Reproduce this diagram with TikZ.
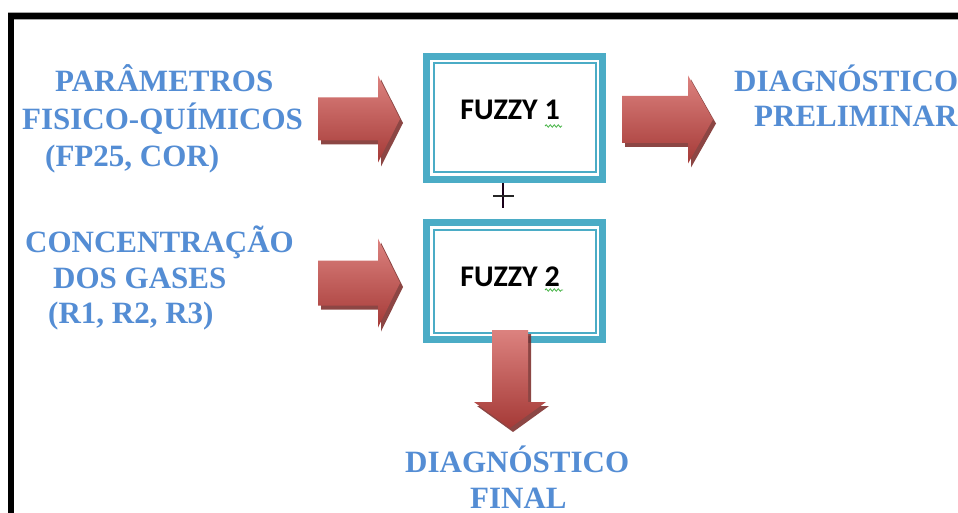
\documentclass[tikz,border=0pt]{standalone}
\usepackage{fontspec}
\setmainfont{Liberation Serif}
\newfontfamily\fzfont{Carlito}
\usetikzlibrary{decorations.pathmorphing}

\definecolor{lblblue}{RGB}{84,141,212}
\definecolor{boxteal}{RGB}{75,172,198}
\definecolor{arrred}{RGB}{192,80,77}
\definecolor{arrpink}{RGB}{220,130,127}
\definecolor{arrdark}{RGB}{165,58,55}
\definecolor{arrshadow}{RGB}{120,38,36}
\definecolor{squiggle}{RGB}{70,180,70}

% horizontal block arrow: x0, yc, head base x, tip x, shaft half height, head half height
\newcommand\blockright[6]{%
  \fill[arrshadow,opacity=.85,shift={(3,4)}]
    (#1,#2-#5) -- (#3,#2-#5) -- (#3,#2-#6) -- (#4,#2) -- (#3,#2+#6)
    -- (#3,#2+#5) -- (#1,#2+#5) -- cycle;
  \shade[top color=arrpink, middle color=arrred, bottom color=arrdark]
    (#1,#2-#5) -- (#3,#2-#5) -- (#3,#2-#6) -- (#4,#2) -- (#3,#2+#6)
    -- (#3,#2+#5) -- (#1,#2+#5) -- cycle;
}
% vertical block arrow: xc, y0, head base y, tip y, shaft half width, head half width
\newcommand\blockdown[6]{%
  \fill[arrshadow,opacity=.85,shift={(3,4)}]
    (#1-#5,#2) -- (#1+#5,#2) -- (#1+#5,#3) -- (#1+#6,#3) -- (#1,#4)
    -- (#1-#6,#3) -- (#1-#5,#3) -- cycle;
  \shade[top color=arrpink, middle color=arrred, bottom color=arrdark]
    (#1-#5,#2) -- (#1+#5,#2) -- (#1+#5,#3) -- (#1+#6,#3) -- (#1,#4)
    -- (#1-#6,#3) -- (#1-#5,#3) -- cycle;
}

\tikzset{
  lbl/.style={font=\fontsize{31}{31}\selectfont\bfseries, text=lblblue,
    inner sep=0pt, text height=20pt, text depth=0pt, anchor=west},
  fzbox/.style={draw=boxteal, line width=7pt, outer sep=0pt, inner sep=0pt,
    minimum width=176pt, fill=white},
  fztext/.style={font=\fzfont\fontsize{30}{30}\selectfont\bfseries,
    inner sep=0pt, text height=19pt, text depth=0pt},
  innerline/.style={draw=boxteal, line width=2pt},
  spell/.style={draw=squiggle, line width=.8pt,
    decorate, decoration={snake, segment length=4pt, amplitude=1.2pt}}
}

\begin{document}
\begin{tikzpicture}[x=1pt,y=-1pt]
\useasboundingbox (0,0) rectangle (958,513);
\fill[white] (0,0) rectangle (958,513);

% outer page frame
\fill[black] (8,12) rectangle (958,19);
\fill[black] (8,12) rectangle (14,513);
\draw[gray!70,line width=.8pt] (8,12.4) -- (958,12.4);
\draw[gray!70,line width=.8pt] (14,19) -- (958,19);

% fuzzy blocks
\node[fzbox, minimum height=123pt] (f1) at (514.5,118) {};
\draw[innerline] ([shift={(7,7)}]f1.north west) rectangle ([shift={(-7,-7)}]f1.south east);
\node[fzbox, minimum height=117pt] (f2) at (514.5,281) {};
\draw[innerline] ([shift={(7,7)}]f2.north west) rectangle ([shift={(-7,-7)}]f2.south east);

\node[fztext] (f1t) at (510,110) {FUZZY 1};
\node[fztext] (f2t) at (510,277) {FUZZY 2};
\draw[spell] (545,126) -- (562,126);
\draw[spell] (545,290) -- (563,290);

% plus sign between the blocks
\coordinate (plusc) at (503,196);
\draw[black!80!violet,line width=1.6pt] (f1.south -| plusc) ++(0,3.5) -- (503,208);
\draw[black!85,line width=1.6pt] (493,196) -- (514,196);

% block arrows
\blockright{318}{119}{378}{400}{21.5}{43.5}
\blockright{318}{283}{378}{400}{22.5}{44.5}
\blockright{622}{119.5}{688}{713}{23.5}{44}
\blockdown{510}{330}{402}{428}{18}{36}

% input labels
\node[lbl] (p1) at (55,82) {PARÂMETROS};
\node[lbl] (p2) at (22,120) {FISICO-QUÍMICOS};
\node[lbl] (p3) at (45,157) {(FP25, COR)};
\node[lbl] (c1) at (25,242) {CONCENTRAÇÃO};
\node[lbl] (c2) at (53,278) {DOS GASES};
\node[lbl] (c3) at (48,313) {(R1, R2, R3)};

% output labels
\node[lbl] (d1) at (734,82) {DIAGNÓSTICO};
\node[lbl] (d2) at (754,117) {PRELIMINAR};
\node[lbl] (e1) at (405,462) {DIAGNÓSTICO};
\node[lbl] (e2) at (470,498) {FINAL};
\end{tikzpicture}
\end{document}
